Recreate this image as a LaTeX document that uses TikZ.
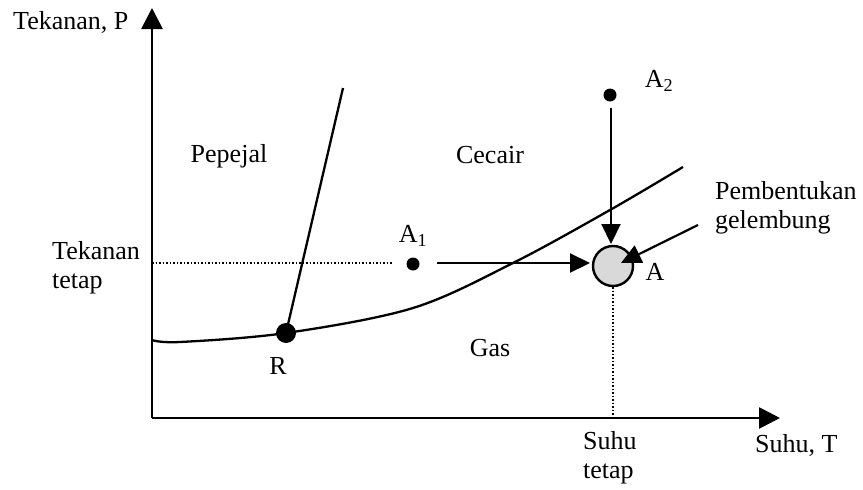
\documentclass[tikz,border=0pt]{standalone}
\usepackage{fontspec}
\setmainfont{Liberation Serif}
\usetikzlibrary{arrows.meta}
\begin{document}
\begin{tikzpicture}[x=1pt,y=-1pt,
  lbl/.style={inner sep=0pt,font=\fontsize{26}{29}\selectfont},
  axis/.style={line width=2.8pt,-{Triangle[width=21pt,length=21pt]}},
  flow/.style={line width=2.2pt,-{Triangle[width=19pt,length=20pt]}},
  phase/.style={line width=2.3pt},
  guide/.style={line width=1.5pt,dotted},
  dot/.style={circle,fill=black,inner sep=0pt}]
\useasboundingbox (0,0) rectangle (863,490);
% axes
\coordinate (O) at (152,418);
\coordinate (Ptop) at (152,8);
\coordinate (Tend) at (780,418);
\draw[axis] (O) -- (Ptop);
\draw[axis] (O) -- (Tend);
\node[lbl,anchor=west] (Plabel) at (13,22) {Tekanan, P};
\node[lbl,anchor=west] (Tlabel) at (755,445) {Suhu, T};
% phase boundaries
\node[dot,minimum size=20pt] (R) at (286,333) {};
\coordinate (SLtop) at (343,88);
\draw[phase] (R.center) -- (SLtop);
\draw[phase] plot[smooth,tension=0.55] coordinates {(152,340) (180,342) (286,333) (413,308) (513,263) (610,210) (683,167)};
\node[lbl] (Rlbl) at (278,366) {R};
% point A
\node[circle,draw=black,line width=2.4pt,fill=gray!30,minimum size=40pt,inner sep=0pt] (A) at (613,266) {};
\node[lbl] (Albl) at (655,272) {A};
% A1
\node[dot,minimum size=13pt] (A1) at (413,264) {};
\node[lbl] (A1lbl) at (413,236) {A\textsubscript{1}};
% A2
\node[dot,minimum size=13pt] (A2) at (610,95) {};
\node[lbl] (A2lbl) at (659,81) {A\textsubscript{2}};
% guides
\coordinate (Pfix) at (152,263);
\coordinate (Pfixend) at (393,263);
\draw[guide] (Pfix) -- (Pfixend);
\coordinate (Tfix) at (613,418);
\draw[guide] (A.south) -- (Tfix);
% arrows
\coordinate (A1s) at (437,263);
\coordinate (A1e) at (590,263);
\draw[flow] (A1s) -- (A1e);
\coordinate (A2s) at (611,108);
\coordinate (A2e) at (611,244);
\draw[flow] (A2s) -- (A2e);
\coordinate (Bs) at (698,225);
\coordinate (Be) at (621,263);
\draw[flow] (Bs) -- (Be);
% labels
\node[lbl] (pepejal) at (229,156) {Pepejal};
\node[lbl] (cecair) at (490,155) {Cecair};
\node[lbl] (gas) at (490,348) {Gas};
\node[lbl,anchor=west,align=left] (tek) at (52,268) {Tekanan\\tetap};
\node[lbl,anchor=west,align=left] (suhu) at (583,458) {Suhu\\tetap};
\node[lbl,anchor=west,align=left] (pemb) at (715,208) {Pembentukan\\gelembung};
\end{tikzpicture}
\end{document}
